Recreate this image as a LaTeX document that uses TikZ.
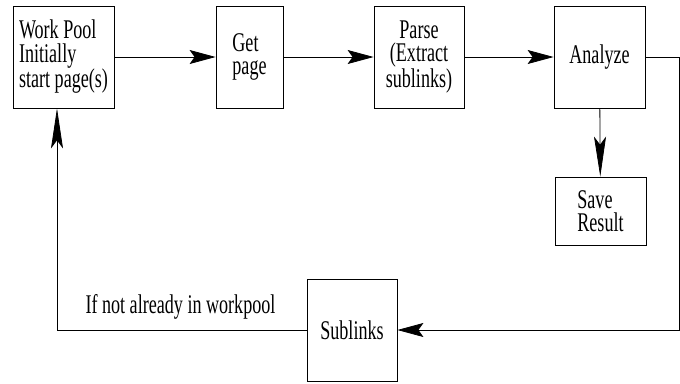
\documentclass[tikz,border=0pt]{standalone}
\usepackage{fontspec}
\setmainfont{Liberation Serif}[FakeStretch=0.67]
\usetikzlibrary{arrows.meta}
\begin{document}
\begin{tikzpicture}
[
x=1pt, y=-1pt,
every node/.style={font=\fontsize{27pt}{23.5pt}\selectfont},
stagebox/.style={draw=black, line width=0.8pt, inner sep=0, align=left, minimum height=102pt},
flow/.style={line width=0.8pt},
harrow/.style={flow, -{Stealth[length=26pt, width=14pt, inset=5pt]}},
varrow/.style={flow, -{Stealth[length=40pt, width=12pt, inset=8pt]}}
]
\useasboundingbox (0,0) rectangle (680,383);
%Nodes
\node[stagebox, minimum width=101pt] at(63.5,57)	(pool) {Work Pool\\Initially\\start page(s)};
\node[stagebox, minimum width=67pt] at(249.5,57)	(get) {Get\\page};
\node[stagebox, minimum width=90pt, align=center] at(419,57)	(parse) {Parse\\(Extract\\sublinks)};
\node[stagebox, minimum width=91pt] at(599.5,57)	(analyze) {Analyze};
\node[stagebox, minimum width=91pt, minimum height=68pt] at(600.5,211)	(save) {Save\\Result};
\node[stagebox, minimum width=90pt] at(352,330)	(sublinks) {Sublinks};
\node[anchor=base west] (cond) at(82,313) {If not already in workpool};
\coordinate (ne) at(679.5,57);
\coordinate (se) at(679.5,330);
\coordinate (sw) at(57,330);

%Connectors
\draw[harrow] (pool) -- (get);
\draw[harrow] (get) -- (parse);
\draw[harrow] (parse) -- (analyze);
\draw[varrow] (analyze) -- (save);
\draw[harrow] (analyze) -- (ne) -- (se) -- (sublinks);
\draw[varrow] (sublinks) -- (sw) -- (sw |- pool.south);

\end{tikzpicture}
\end{document}
